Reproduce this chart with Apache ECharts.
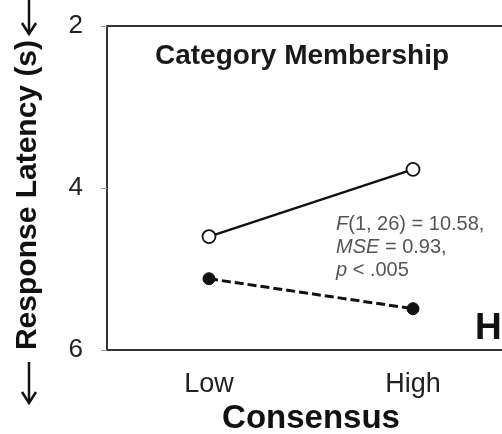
<!DOCTYPE html>
<html>
<head>
<meta charset="utf-8">
<script src="https://cdn.jsdelivr.net/npm/echarts@6/dist/echarts.min.js"></script>
<style>
  html, body { margin: 0; padding: 0; background: #fff; }
  #main { width: 502px; height: 434px; }
</style>
</head>
<body>
<div id="main"></div>
<script>
// consensus levels on the x axis
var categories = ['Low', 'High'];
// response latency (s)
var openValues = [4.6, 3.77];
var filledValues = [5.12, 5.49];
var yTicks = [2, 4, 6];

var chart = echarts.init(document.getElementById('main'));
var font = 'Liberation Sans, Arial, sans-serif';

// arrow next to the y axis title
function arrow(y1, y2) {
    return [
        { type: 'line', shape: { x1: 29, y1: y1, x2: 29, y2: y2 }, style: { stroke: '#111', lineWidth: 2.5 } },
        { type: 'polyline', shape: { points: [[22, y2 - 11], [29, y2], [36, y2 - 11]] }, style: { stroke: '#111', lineWidth: 2.5, fill: null } }
    ];
}

var option = {
    backgroundColor: '#fff',
    animation: false,
    grid: {
        left: 107,
        top: 26,
        width: 408,
        height: 324,
        outerBoundsMode: 'none',
        containLabel: false,
        show: true,
        borderColor: '#333',
        borderWidth: 2
    },
    xAxis: {
        type: 'category',
        data: categories,
        boundaryGap: true,
        axisLine: { lineStyle: { color: '#333', width: 2 } },
        axisTick: { inside: true, length: 4, alignWithLabel: true, lineStyle: { color: '#999' } },
        axisLabel: { fontSize: 27, color: '#222', margin: 21, fontFamily: font },
        name: 'Consensus',
        nameLocation: 'middle',
        nameGap: 50,
        nameTextStyle: { fontSize: 33, fontWeight: 'bold', color: '#111', fontFamily: font }
    },
    yAxis: {
        type: 'value',
        inverse: true,
        min: yTicks[0],
        max: yTicks[yTicks.length - 1],
        interval: 2,
        splitLine: { show: false },
        axisLine: { show: true, lineStyle: { color: '#333', width: 2 } },
        axisTick: { show: true, length: 6, lineStyle: { color: '#999' } },
        axisLabel: { fontSize: 26, color: '#222', margin: 24, fontFamily: font }
    },
    graphic: [
        {
            type: 'text',
            x: 155,
            y: 56,
            style: { text: 'Category Membership', font: 'bold 28px ' + font, fill: '#1a1a1a', verticalAlign: 'middle' }
        },
        {
            type: 'text',
            x: 28,
            y: 195,
            rotation: Math.PI / 2,
            style: {
                text: 'Response Latency (s)',
                font: 'bold 30px ' + font,
                fill: '#111',
                align: 'center',
                verticalAlign: 'middle'
            }
        },
        {
            type: 'text',
            x: 336,
            y: 213,
            style: {
                text: '{i|F}(1, 26) = 10.58,\n{i|MSE} = 0.93,\n{i|p} < .005',
                font: '20px ' + font,
                fill: '#555',
                lineHeight: 23,
                rich: {
                    i: { font: 'italic 20px ' + font, fill: '#555', lineHeight: 23 }
                }
            }
        },
        {
            type: 'text',
            x: 475,
            y: 329,
            style: { text: 'H', font: 'bold 37px ' + font, fill: '#111', verticalAlign: 'middle' }
        }
    ].concat(arrow(0, 34), arrow(362, 403)),
    series: [
        {
            type: 'line',
            data: openValues,
            symbol: 'circle',
            symbolSize: 13,
            lineStyle: { color: '#111', width: 2.5, type: 'solid' },
            itemStyle: { color: '#fff', borderColor: '#111', borderWidth: 1.8 },
            z: 3
        },
        {
            type: 'line',
            data: filledValues,
            symbol: 'circle',
            symbolSize: 12,
            lineStyle: { color: '#111', width: 3, type: [9, 4] },
            itemStyle: { color: '#111', borderColor: '#111', borderWidth: 1 },
            z: 3
        }
    ]
};
chart.setOption(option);
</script>
</body>
</html>
